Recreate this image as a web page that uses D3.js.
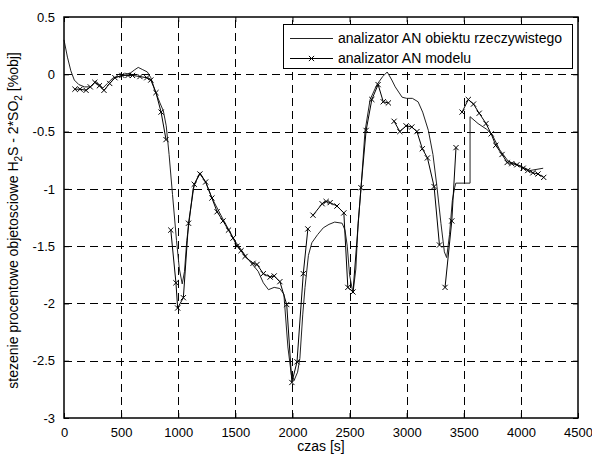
<!DOCTYPE html>
<html>
<head>
<meta charset="utf-8">
<script src="https://cdn.jsdelivr.net/npm/d3@7"></script>
<style>
  html, body { margin: 0; padding: 0; background: #fff; }
  svg { display: block; font-family: "Liberation Sans", Arial, sans-serif; }
</style>
</head>
<body>
<svg id="chart" width="592" height="457"></svg>
<script>
// ---- data ----
const xTicks = [0, 500, 1000, 1500, 2000, 2500, 3000, 3500, 4000, 4500];
const xTickLabels = ["0", "500", "1000", "1500", "2000", "2500", "3000", "3500", "4000", "4500"];
const yTicks = [0.5, 0, -0.5, -1, -1.5, -2, -2.5, -3];
const yTickLabels = ["0.5", "0", "-0.5", "-1", "-1.5", "-2", "-2.5", "-3"];
const seriesNames = ["analizator AN obiektu rzeczywistego", "analizator AN modelu"];
const xLabel = "czas [s]";

// real object analyzer (solid line) [time, value]
const realSeries = [
  [0,0.30],[30,0.15],[60,0.03],[90,-0.05],[130,-0.09],[180,-0.11],[230,-0.11],[255,-0.09],
  [275,-0.06],[300,-0.08],[340,-0.12],[380,-0.08],[430,-0.03],[480,-0.02],[530,0.0],[580,0.01],
  [620,0.04],[650,0.06],[690,0.04],[730,0.02],[760,-0.03],[800,-0.15],[840,-0.25],[870,-0.32],
  [895,-0.45],[920,-0.7],[950,-1.05],[985,-1.45],[1010,-1.7],[1035,-1.83],[1055,-1.72],
  [1075,-1.45],[1100,-1.25],[1130,-1.0],[1160,-0.92],[1190,-0.86],[1240,-0.94],[1295,-1.08],
  [1400,-1.28],[1500,-1.46],[1600,-1.6],[1650,-1.66],[1700,-1.72],[1745,-1.82],[1790,-1.88],
  [1840,-1.86],[1890,-1.87],[1925,-1.92],[1960,-2.38],[1990,-2.62],[2015,-2.67],[2045,-2.6],
  [2065,-2.48],[2090,-2.1],[2110,-1.86],[2140,-1.58],[2170,-1.47],[2220,-1.4],[2270,-1.34],
  [2320,-1.31],[2370,-1.29],[2435,-1.3],[2460,-1.36],[2480,-1.5],[2500,-1.75],[2530,-1.91],
  [2555,-1.7],[2575,-1.3],[2600,-1.0],[2635,-0.5],[2680,-0.22],[2740,-0.09],[2790,-0.02],
  [2830,0.02],[2870,-0.05],[2900,-0.11],[2960,-0.2],[3000,-0.21],[3050,-0.21],[3100,-0.24],
  [3140,-0.33],[3190,-0.49],[3230,-0.7],[3265,-0.98],[3300,-1.3],[3330,-1.55],[3350,-1.6],
  [3375,-1.4],[3400,-1.1],[3420,-0.99],[3430,-0.95],[3555,-0.95],[3555,-0.37],[3625,-0.43],
  [3700,-0.48],[3745,-0.52],[3815,-0.66],[3890,-0.76],[3975,-0.79],[4080,-0.84],[4195,-0.82]
];

// model analyzer (line with x markers); null marks a break in the line
const modelSeries = [
  [96,-0.13],[140,-0.13],[193,-0.14],[230,-0.11],[270,-0.07],[310,-0.1],[350,-0.14],[400,-0.08],
  [446,-0.03],[507,-0.01],[560,-0.01],[600,-0.01],[665,-0.02],[725,-0.03],[760,-0.05],[805,-0.16],
  [850,-0.33],[893,-0.57],
  null,
  [935,-1.36],[980,-1.82],[995,-2.04],[1045,-1.95],[1090,-1.3],[1140,-0.96],[1190,-0.87],
  [1240,-0.94],[1295,-1.08],[1340,-1.2],[1392,-1.28],[1440,-1.36],[1480,-1.43],[1515,-1.5],
  [1550,-1.54],[1585,-1.59],[1655,-1.65],[1690,-1.66],[1745,-1.74],[1805,-1.77],[1840,-1.76],
  [1890,-1.81],[1950,-2.01],[1995,-2.69],[2040,-2.51],[2095,-1.74],[2135,-1.35],
  null,
  [2180,-1.23],[2260,-1.13],[2295,-1.11],[2330,-1.12],[2390,-1.15],[2450,-1.21],[2485,-1.86],
  [2530,-1.9],[2600,-0.99],[2645,-0.49],[2695,-0.22],[2750,-0.09],[2795,-0.24],[2840,-0.25],
  null,
  [2890,-0.41],[2940,-0.5],[2995,-0.45],[3045,-0.46],[3090,-0.5],[3137,-0.65],[3182,-0.73],
  [3240,-0.98],[3287,-1.49],
  null,
  [3336,-1.86],[3395,-1.28],[3432,-0.64],
  null,
  [3485,-0.33],[3540,-0.22],[3585,-0.26],[3635,-0.34],[3695,-0.43],[3740,-0.52],[3780,-0.62],
  [3835,-0.7],[3880,-0.77],[3920,-0.78],[3965,-0.79],[4020,-0.82],[4060,-0.84],[4105,-0.86],
  [4150,-0.87],[4200,-0.9]
];

// ---- layout ----
const svg = d3.select("#chart");
const L = 64, R = 578, T = 17, B = 418;
const x = d3.scaleLinear().domain([0, 4500]).range([L, R]);
const y = d3.scaleLinear().domain([-3, 0.5]).range([B, T]);

// grid
const grid = svg.append("g").attr("stroke", "#000").attr("stroke-width", 1)
  .attr("stroke-dasharray", "8,5").attr("fill", "none");
xTicks.slice(1, -1).forEach(v => {
  grid.append("line").attr("x1", Math.round(x(v)) + 0.5).attr("x2", Math.round(x(v)) + 0.5)
    .attr("y1", B).attr("y2", T);
});
yTicks.slice(1, -1).forEach(v => {
  grid.append("line").attr("y1", Math.round(y(v)) + 0.5).attr("y2", Math.round(y(v)) + 0.5)
    .attr("x1", L).attr("x2", R);
});

// data lines
const lineGen = d3.line().defined(d => d !== null).x(d => x(d[0])).y(d => y(d[1]));
svg.append("path").datum(realSeries).attr("d", lineGen)
  .attr("fill", "none").attr("stroke", "#222").attr("stroke-width", 1);
svg.append("path").datum(modelSeries).attr("d", lineGen)
  .attr("fill", "none").attr("stroke", "#000").attr("stroke-width", 1);

const mk = 2.6;
const markers = svg.append("g").attr("stroke", "#000").attr("stroke-width", 1);
modelSeries.filter(d => d !== null).forEach(d => {
  const cx = x(d[0]), cy = y(d[1]);
  markers.append("path").attr("d",
    `M${cx - mk},${cy - mk}L${cx + mk},${cy + mk}M${cx - mk},${cy + mk}L${cx + mk},${cy - mk}`);
});

// axes (inside ticks) with labels
const xAxis = d3.axisBottom(x).tickValues(xTicks).tickSize(-5).tickPadding(10)
  .tickFormat((d, i) => xTickLabels[i]);
const gx = svg.append("g").attr("transform", `translate(0,${B})`).call(xAxis);
const yAxis = d3.axisLeft(y).tickValues(yTicks).tickSize(-5).tickPadding(9)
  .tickFormat((d, i) => yTickLabels[i]);
const gy = svg.append("g").attr("transform", `translate(${L},0)`).call(yAxis);
const xAxisTop = d3.axisTop(x).tickValues(xTicks).tickSize(-5).tickFormat("");
const gxt = svg.append("g").attr("transform", `translate(0,${T})`).call(xAxisTop);
const yAxisRight = d3.axisRight(y).tickValues(yTicks).tickSize(-5).tickFormat("");
const gyr = svg.append("g").attr("transform", `translate(${R},0)`).call(yAxisRight);
[gx, gy, gxt, gyr].forEach(g => {
  g.select(".domain").remove();
  g.selectAll("line").attr("stroke", "#000");
  g.selectAll("text").attr("fill", "#000").style("font-size", "13px")
    .style("font-family", "'Liberation Sans', Arial, sans-serif");
});

// box
svg.append("rect").attr("x", L).attr("y", T).attr("width", R - L).attr("height", B - T)
  .attr("fill", "none").attr("stroke", "#000").attr("stroke-width", 1.5);

// axis labels
svg.append("text").attr("x", (L + R) / 2).attr("y", 451).attr("text-anchor", "middle")
  .style("font-size", "14px").text(xLabel);

const yl = svg.append("text").attr("transform", `translate(18,${(T + B) / 2 + 3}) rotate(-90)`)
  .attr("text-anchor", "middle").style("font-size", "14px");
yl.append("tspan").text("stezenie procentowe objetosciowe H");
yl.append("tspan").attr("dy", 4).style("font-size", "10px").text("2");
yl.append("tspan").attr("dy", -4).text("S - 2*SO");
yl.append("tspan").attr("dy", 4).style("font-size", "10px").text("2");
yl.append("tspan").attr("dy", -4).text(" [%obj]");

// legend
const lg = svg.append("g");
lg.append("rect").attr("x", 283.5).attr("y", 24.5).attr("width", 289).attr("height", 44)
  .attr("fill", "#fff").attr("stroke", "#000").attr("stroke-width", 1);
const rows = [38, 58];
seriesNames.forEach((name, i) => {
  const yy = rows[i];
  lg.append("line").attr("x1", 290).attr("x2", 333).attr("y1", yy + 0.5).attr("y2", yy + 0.5)
    .attr("stroke", i === 0 ? "#222" : "#000").attr("stroke-width", 1);
  if (i === 1) {
    const cx = 311.5, cy = yy + 0.5;
    lg.append("path").attr("stroke", "#000").attr("stroke-width", 1).attr("d",
      `M${cx - mk},${cy - mk}L${cx + mk},${cy + mk}M${cx - mk},${cy + mk}L${cx + mk},${cy - mk}`);
  }
  lg.append("text").attr("x", 338).attr("y", yy + 5).style("font-size", "14px").text(name);
});
</script>
</body>
</html>
